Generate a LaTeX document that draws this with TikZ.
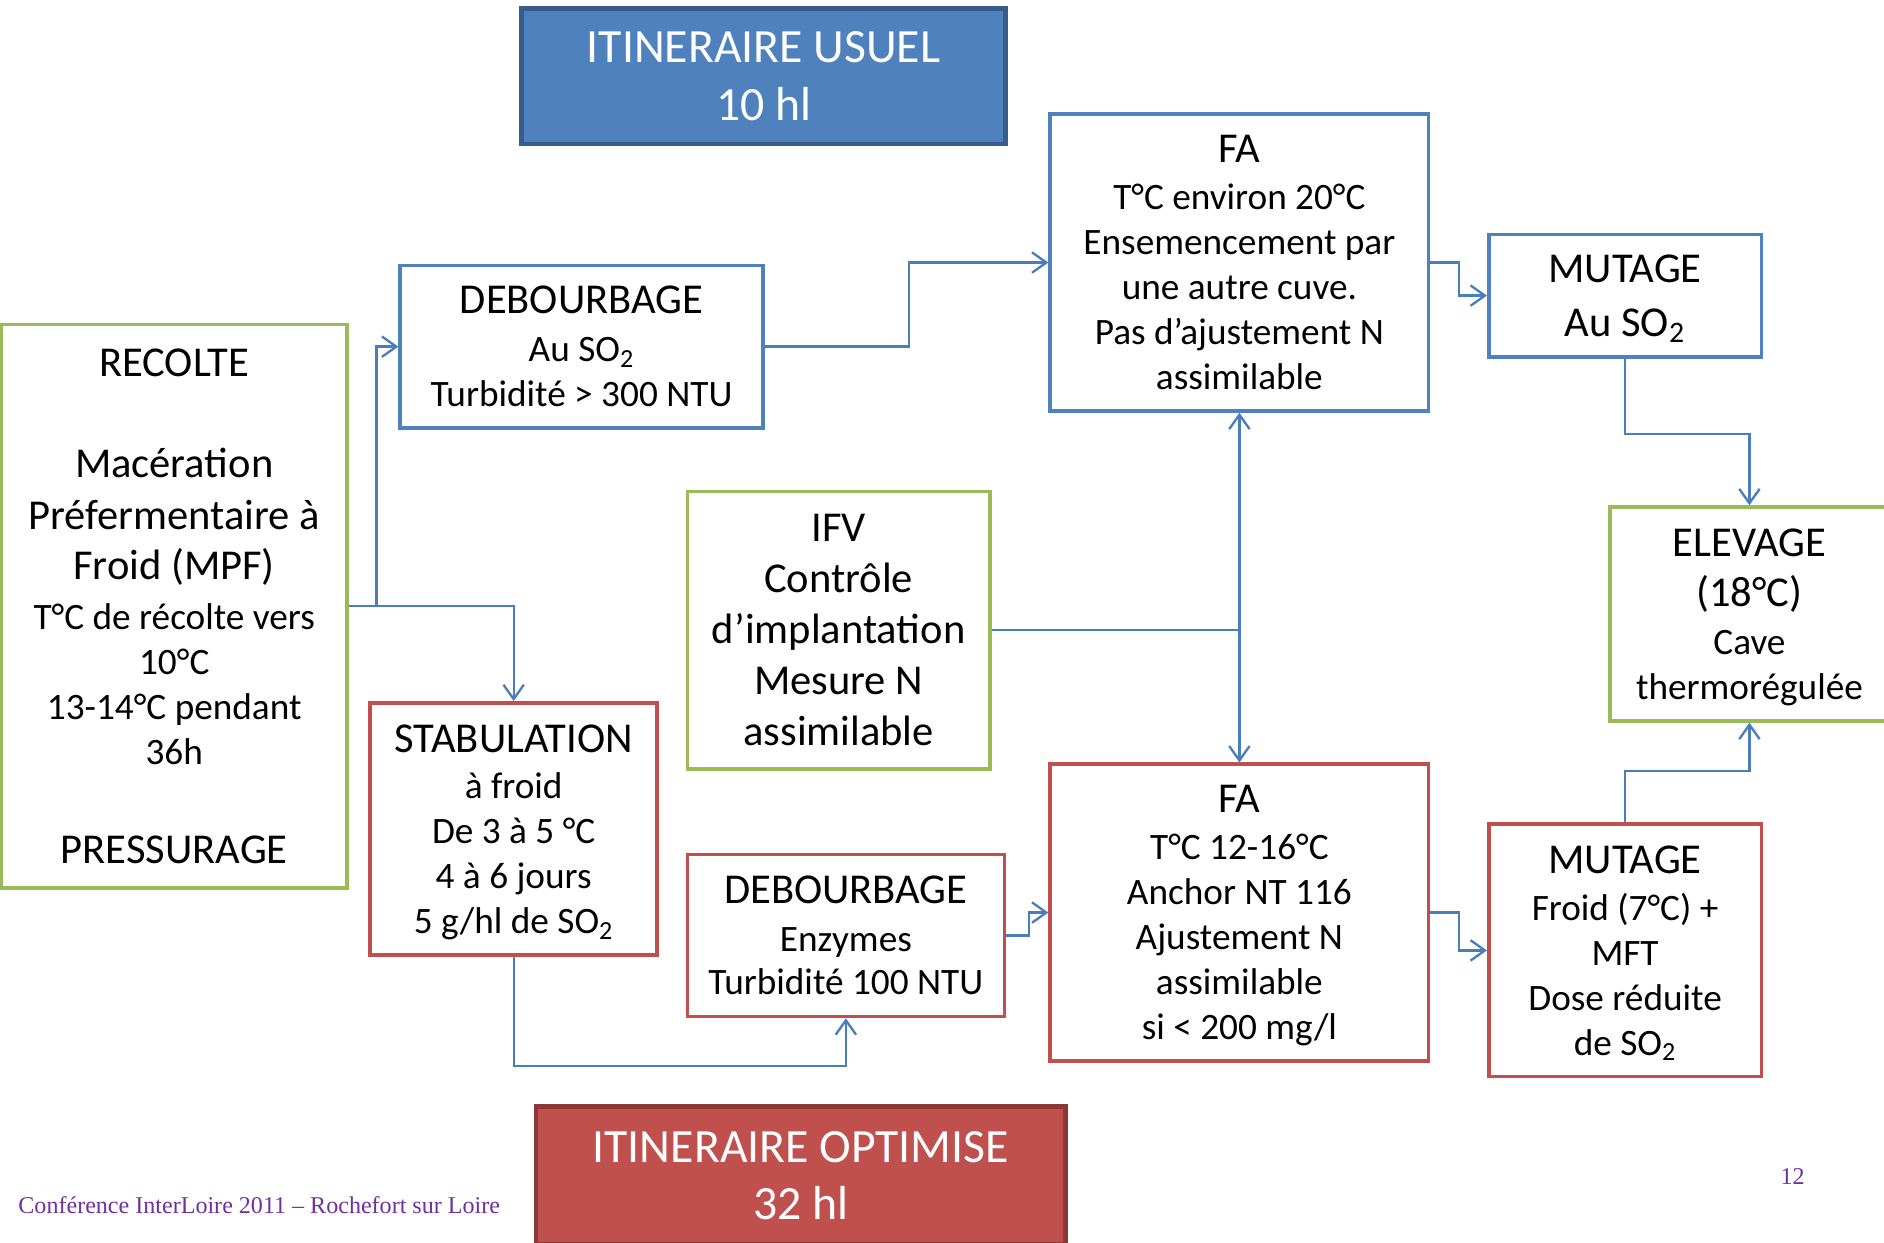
\documentclass[tikz,border=0pt]{standalone}
\usepackage{fontspec}
\setmainfont{Carlito}
\newfontfamily\footfont{Liberation Serif}
\usetikzlibrary{arrows.meta,positioning}

\definecolor{boxblue}{HTML}{4F81BD}
\definecolor{boxgreen}{HTML}{9BBB59}
\definecolor{boxred}{HTML}{C0504D}
\definecolor{linkblue}{HTML}{4A7EBB}
\definecolor{usuelfill}{HTML}{4F81BD}
\definecolor{usueldraw}{HTML}{385D8A}
\definecolor{optifill}{HTML}{C0504D}
\definecolor{optidraw}{HTML}{8C3836}
\definecolor{footpurple}{HTML}{7030A0}

\newcommand\boxhead[1]{{\fontsize{20.15}{21.3}\selectfont #1}}

\begin{document}
\begin{tikzpicture}[x=0.02cm,y=-0.02cm,
    >={Straight Barb[length=2.4mm,width=3.4mm]},
    box/.style={draw, line width=1.7pt, fill=white, align=center, inner sep=0pt,
      font=\fontsize{17.65}{21.3}\selectfont},
    bluebox/.style={box, draw=boxblue},
    greenbox/.style={box, draw=boxgreen},
    redbox/.style={box, draw=boxred, text depth=0pt},
    banner/.style={draw, line width=2.2pt, align=center, text=white, inner sep=0pt,
      font=\fontsize{22.6}{27.2}\selectfont},
    link/.style={draw=linkblue, line width=1.1pt}]

  \useasboundingbox (0,0) rectangle (1568,1034);

  % titres
  \node[banner, fill=usuelfill, draw=usueldraw, minimum width=8.06cm, minimum height=2.26cm]
    (usuel) at (635.5,63.5) {ITINERAIRE USUEL\\10 hl};
  \node[banner, fill=optifill, draw=optidraw, minimum width=8.82cm, minimum height=2.3cm]
    (optimise) at (666.5,978.5) {ITINERAIRE OPTIMISE\\32 hl};

  % itineraire usuel
  \node[bluebox, minimum width=6.04cm, minimum height=2.7cm] (debA) at (484,288.5)
    {\boxhead{DEBOURBAGE}\\[1.4pt] Au SO\textsubscript{2}\\ Turbidité > 300 NTU};
  \node[bluebox, minimum width=6.3cm, minimum height=4.94cm, text depth=0pt] (faA) at (1031.5,218.5)
    {\boxhead{FA}\\[0.9pt] T°C environ 20°C\\ Ensemencement par\\ une autre cuve.\\
     Pas d’ajustement N\\ assimilable};
  \node[bluebox, minimum width=4.54cm, minimum height=2.04cm,
    font=\fontsize{20.15}{25.5}\selectfont, text depth=0pt] (mutA) at (1352.5,246)
    {MUTAGE\\ Au SO\textsubscript{2}};

  % communs
  \node[greenbox, minimum width=5.76cm, minimum height=9.38cm] (recolte) at (145,504.5)
    {\boxhead{RECOLTE}\\[26.9pt] \boxhead{Macération}\\[3.1pt] \boxhead{Préfermentaire à}\\[2.6pt]
     \boxhead{Froid (MPF)}\\[2pt] T°C de récolte vers\\ 10°C\\ 13-14°C pendant\\ 36h\\[25.8pt]
     \boxhead{PRESSURAGE}};
  \node[greenbox, minimum width=5.04cm, minimum height=4.62cm,
    font=\fontsize{20.15}{24.1}\selectfont] (ifv) at (698,524.5)
    {IFV\\ Contrôle\\ d’implantation\\ Mesure N\\ assimilable};
  \node[greenbox, minimum width=4.64cm, minimum height=3.56cm, text depth=0pt] (elevage) at (1456,511)
    {\boxhead{ELEVAGE}\\[2.55pt] \boxhead{(18°C)}\\[1.4pt] Cave\\ thermorégulée};

  % itineraire optimise
  \node[redbox, minimum width=4.78cm, minimum height=4.2cm] (stab) at (427.5,690)
    {\boxhead{STABULATION}\\[0.85pt] à froid\\ De 3 à 5 °C\\ 4 à 6 jours\\ 5 g/hl de SO\textsubscript{2}};
  \node[redbox, minimum width=5.28cm, minimum height=2.7cm] (debB) at (704,778.5)
    {\boxhead{DEBOURBAGE}\\[1.4pt] Enzymes\\[-0.85pt] Turbidité 100 NTU};
  \node[redbox, minimum width=6.3cm, minimum height=4.94cm] (faB) at (1031.5,759.5)
    {\boxhead{FA}\\[0.85pt] T°C 12-16°C\\ Anchor NT 116\\ Ajustement N\\ assimilable\\ si < 200 mg/l};
  \node[redbox, minimum width=4.54cm, minimum height=4.2cm] (mutB) at (1352.5,791)
    {\boxhead{MUTAGE}\\[0.85pt] Froid (7°C) +\\ MFT\\ Dose réduite\\ de SO\textsubscript{2}};

  % liaisons
  \path[link,->] (recolte.east) -- ++(23,0) |- (debA.west);
  \path[link,->] (recolte.east) -| (stab.north);
  \path[link,->] (debA.east) -- ++(120,0) |- (faA.west);
  \path[link,->] (faA.east) -- ++(24,0) |- (mutA.west);
  \path[link,->] (mutA.south) -- ++(0,63) -| (elevage.north);
  \path[link,<->] (faA.south) -- (faB.north);
  \path[link] (ifv.east) -- (ifv.east -| faA.south);
  \path[link,->] (stab.south) -- ++(0,91) -| (debB.south);
  \path[link,->] (debB.east) -- ++(19,0) |- (faB.west);
  \path[link,->] (faB.east) -- ++(24,0) |- (mutB.west);
  \path[link,->] (mutB.north) -- ++(0,-43) -| (elevage.south);

  % pied de page
  \node[anchor=west, inner sep=0pt, text=footpurple, font=\footfont\fontsize{11.4}{13}\selectfont]
    (conf) at (15,1003) {Conférence InterLoire 2011 – Rochefort sur Loire};
  \node[inner sep=0pt, text=footpurple, font=\footfont\fontsize{11.4}{13}\selectfont]
    (page) at (1492,979) {12};
\end{tikzpicture}
\end{document}
